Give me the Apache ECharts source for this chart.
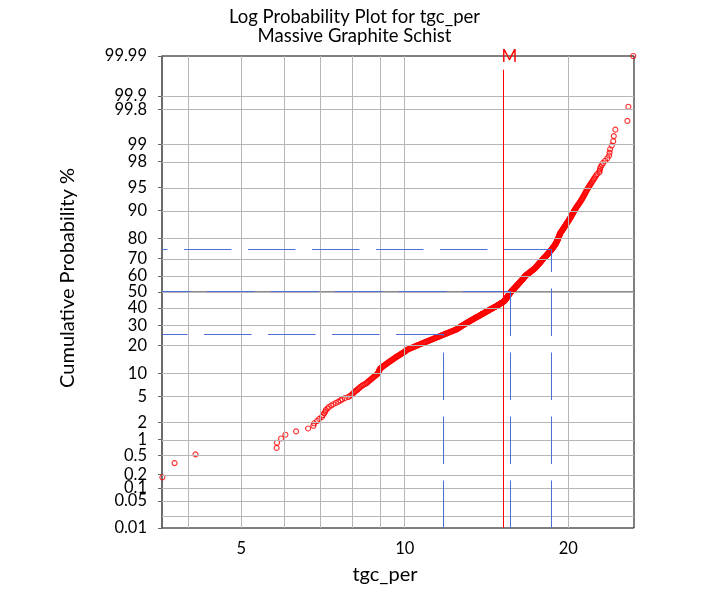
<!DOCTYPE html>
<html>
<head>
<meta charset="utf-8">
<script src="https://cdn.jsdelivr.net/npm/echarts@6/dist/echarts.min.js"></script>
<style>
  html, body { margin: 0; padding: 0; background: #fff; }
  #chart { width: 709px; height: 596px; }
</style>
</head>
<body>
<div id="chart"></div>
<script>
// Sorted tgc_per assays (%), Massive Graphite Schist, n = 570
const tgcPer = [
  3.58,3.77,4.12,5.81,5.82,5.92,6.03,6.31,6.64,6.79,
  6.81,6.90,6.96,7.04,7.07,7.11,7.14,7.16,7.21,7.25,
  7.32,7.39,7.47,7.55,7.62,7.67,7.76,7.87,7.93,7.98,
  8.02,8.05,8.09,8.12,8.17,8.20,8.24,8.27,8.31,8.35,
  8.39,8.45,8.51,8.53,8.56,8.60,8.63,8.66,8.69,8.72,
  8.75,8.78,8.81,8.85,8.88,8.90,8.93,8.94,8.95,8.96,
  8.97,8.98,8.99,9.00,9.01,9.04,9.07,9.10,9.12,9.15,
  9.18,9.21,9.24,9.27,9.30,9.32,9.35,9.38,9.41,9.44,
  9.47,9.50,9.52,9.55,9.58,9.61,9.64,9.67,9.70,9.73,
  9.76,9.79,9.82,9.85,9.88,9.91,9.94,9.97,10.00,10.02,
  10.04,10.06,10.08,10.12,10.16,10.20,10.24,10.28,10.33,10.37,
  10.41,10.45,10.49,10.53,10.58,10.62,10.67,10.71,10.75,10.80,
  10.84,10.88,10.92,10.96,11.01,11.05,11.09,11.14,11.18,11.22,
  11.27,11.31,11.35,11.40,11.44,11.48,11.52,11.57,11.61,11.65,
  11.70,11.74,11.78,11.82,11.87,11.91,11.95,11.99,12.04,12.08,
  12.12,12.17,12.21,12.25,12.30,12.34,12.38,12.43,12.47,12.49,
  12.52,12.55,12.57,12.60,12.62,12.65,12.68,12.70,12.73,12.75,
  12.78,12.81,12.84,12.87,12.90,12.93,12.95,12.98,13.01,13.04,
  13.07,13.10,13.13,13.16,13.19,13.22,13.25,13.28,13.31,13.34,
  13.37,13.40,13.43,13.46,13.49,13.52,13.55,13.58,13.61,13.65,
  13.68,13.71,13.74,13.77,13.80,13.83,13.86,13.89,13.92,13.95,
  13.98,14.01,14.04,14.07,14.10,14.14,14.17,14.20,14.23,14.26,
  14.29,14.32,14.35,14.38,14.42,14.45,14.48,14.51,14.54,14.58,
  14.61,14.64,14.67,14.71,14.74,14.77,14.80,14.83,14.86,14.88,
  14.91,14.94,14.97,15.00,15.03,15.05,15.08,15.11,15.14,15.17,
  15.20,15.22,15.25,15.26,15.28,15.29,15.30,15.32,15.33,15.34,
  15.36,15.37,15.38,15.40,15.41,15.42,15.44,15.45,15.46,15.48,
  15.49,15.50,15.51,15.53,15.54,15.55,15.57,15.58,15.59,15.60,
  15.62,15.63,15.64,15.66,15.67,15.69,15.71,15.72,15.74,15.76,
  15.78,15.79,15.81,15.83,15.85,15.86,15.88,15.90,15.92,15.93,
  15.95,15.97,15.99,16.00,16.02,16.04,16.06,16.07,16.09,16.11,
  16.13,16.14,16.16,16.18,16.20,16.21,16.23,16.25,16.27,16.28,
  16.30,16.32,16.34,16.35,16.37,16.39,16.41,16.42,16.44,16.46,
  16.48,16.49,16.51,16.53,16.55,16.56,16.58,16.60,16.61,16.63,
  16.64,16.66,16.67,16.70,16.72,16.75,16.78,16.80,16.83,16.86,
  16.89,16.91,16.94,16.97,16.99,17.02,17.05,17.07,17.10,17.13,
  17.16,17.18,17.21,17.24,17.26,17.29,17.32,17.34,17.37,17.39,
  17.41,17.43,17.45,17.47,17.49,17.51,17.53,17.55,17.57,17.59,
  17.61,17.63,17.65,17.67,17.69,17.71,17.73,17.75,17.77,17.79,
  17.81,17.83,17.85,17.87,17.89,17.91,17.93,17.95,17.98,18.00,
  18.02,18.05,18.07,18.09,18.12,18.14,18.16,18.19,18.21,18.23,
  18.26,18.28,18.30,18.32,18.35,18.37,18.39,18.42,18.44,18.46,
  18.49,18.51,18.53,18.56,18.58,18.60,18.63,18.65,18.67,18.69,
  18.71,18.73,18.75,18.77,18.79,18.82,18.84,18.86,18.88,18.90,
  18.92,18.93,18.95,18.97,18.98,19.00,19.02,19.03,19.05,19.06,
  19.08,19.09,19.11,19.12,19.14,19.15,19.17,19.18,19.19,19.21,
  19.22,19.23,19.24,19.26,19.27,19.28,19.30,19.31,19.32,19.33,
  19.36,19.38,19.41,19.43,19.46,19.48,19.51,19.53,19.56,19.58,
  19.61,19.63,19.66,19.69,19.71,19.74,19.76,19.79,19.82,19.84,
  19.87,19.90,19.93,19.95,19.98,20.01,20.04,20.07,20.10,20.12,
  20.15,20.18,20.21,20.24,20.27,20.29,20.32,20.35,20.38,20.41,
  20.44,20.46,20.49,20.52,20.56,20.59,20.63,20.67,20.70,20.74,
  20.78,20.83,20.87,20.92,20.96,21.01,21.05,21.10,21.14,21.19,
  21.23,21.28,21.32,21.36,21.41,21.45,21.50,21.54,21.59,21.63,
  21.69,21.75,21.82,21.88,21.94,22.02,22.09,22.17,22.25,22.31,
  22.41,22.50,22.60,22.82,22.84,22.89,22.94,23.05,23.18,23.38,
  23.61,23.78,23.83,23.88,24.05,24.20,24.26,24.42,25.70,25.81
];

// Extreme assay shown on the 99.99 % line: [tgc_per, cumulative %]
const extremePoint = [26.35, 99.99];

// Probability-axis tick labels (cumulative %)
const probTickLabels = ['0.01','0.02','0.05','0.1','0.2','0.5','1','2','5','10','20',
  '30','40','50','60','70','80','90','95','98','99','99.8','99.9','99.99'];

// tgc_per axis: labelled ticks, all ticks and vertical grid lines
const xTickLabels = [5, 10, 20];
const xTickValues = [4, 5, 6, 7, 8, 9, 10, 20];

// Quartile guide lines (cumulative %)
const quartilePercents = [25, 50, 75];

// ---- layout / style constants ----
const X_MIN = 3.574, X_MAX = 26.43;
const MEAN_LINE_TOP_PCT = 99.977;
const FONT = 'Lato';
const GUIDE_BLUE = '#4a70d8';
const GRID_GREY = '#b6b6b6';

// Inverse standard normal CDF (Acklam)
function probit(p) {
  const a = [-3.969683028665376e+01, 2.209460984245205e+02, -2.759285104469687e+02,
             1.383577518672690e+02, -3.066479806614716e+01, 2.506628277459239e+00];
  const b = [-5.447609879822406e+01, 1.615858368580409e+02, -1.556989798598866e+02,
             6.680131188771972e+01, -1.328068155288572e+01];
  const c = [-7.784894002430293e-03, -3.223964580411365e-01, -2.400758277161838e+00,
             -2.549732539343734e+00, 4.374664141464968e+00, 2.938163982698783e+00];
  const d = [7.784695709041462e-03, 3.224671290700398e-01, 2.445134137142996e+00,
             3.754408661907416e+00];
  const pl = 0.02425, ph = 1 - pl;
  let q, r;
  if (p < pl) {
    q = Math.sqrt(-2 * Math.log(p));
    return (((((c[0]*q+c[1])*q+c[2])*q+c[3])*q+c[4])*q+c[5]) /
           ((((d[0]*q+d[1])*q+d[2])*q+d[3])*q+1);
  }
  if (p > ph) {
    q = Math.sqrt(-2 * Math.log(1 - p));
    return -(((((c[0]*q+c[1])*q+c[2])*q+c[3])*q+c[4])*q+c[5]) /
            ((((d[0]*q+d[1])*q+d[2])*q+d[3])*q+1);
  }
  q = p - 0.5; r = q * q;
  return (((((a[0]*r+a[1])*r+a[2])*r+a[3])*r+a[4])*r+a[5])*q /
         (((((b[0]*r+b[1])*r+b[2])*r+b[3])*r+b[4])*r+1);
}
const zOf = pct => probit(pct / 100);

const N = tgcPer.length;
const Z_MIN = zOf(0.01), Z_MAX = zOf(99.99);
const probTicks = probTickLabels.map(s => zOf(parseFloat(s)));

// Weibull plotting positions i/(n+1)
const points = tgcPer.map((v, i) => [v, probit((i + 1) / (N + 1))]);
points.push([extremePoint[0], zOf(extremePoint[1])]);

function quantile(sorted, q) {
  const pos = q * (sorted.length + 1);
  const i = Math.floor(pos), f = pos - i;
  if (i < 1) return sorted[0];
  if (i >= sorted.length) return sorted[sorted.length - 1];
  return sorted[i - 1] + f * (sorted[i] - sorted[i - 1]);
}
const mean = tgcPer.reduce((s, v) => s + v, 0) / N;

const gridLines = probTicks.slice(1, -1).map(z => ({ yAxis: z }))
  .concat(xTickValues.map(v => ({ xAxis: v })));

const chart = echarts.init(document.getElementById('chart'), null, { renderer: 'canvas' });

function guideSeries(snap) {
  const lines = [];
  quartilePercents.forEach(pct => {
    const [v, z] = snap([quantile(tgcPer, pct / 100), zOf(pct)]);
    lines.push([{ coord: [v, z] }, { coord: [X_MIN, z] }]);
    lines.push([{ coord: [v, Z_MIN] }, { coord: [v, z] }]);
  });
  const [mx] = snap([mean, 0]);
  return [
    {
      id: 'quartiles', name: 'quartiles', type: 'scatter', data: [], silent: true,
      markLine: {
        silent: true, symbol: ['none', 'none'], animation: false,
        label: { show: false },
        lineStyle: { color: GUIDE_BLUE, width: 1, type: [47.5, 16.5] },
        emphasis: { disabled: true },
        data: lines
      }
    },
    {
      id: 'mean', name: 'mean', type: 'scatter', data: [], silent: true,
      markLine: {
        silent: true, symbol: ['none', 'none'], animation: false,
        lineStyle: { color: '#ff0000', width: 1, type: 'solid' },
        emphasis: { disabled: true },
        label: {
          show: true, position: 'end', formatter: 'M', distance: 5,
          fontFamily: FONT, fontSize: 17, color: '#ff0000', offset: [6, 0]
        },
        data: [[{ coord: [mx, Z_MIN] }, { coord: [mx, zOf(MEAN_LINE_TOP_PCT)] }]]
      }
    }
  ];
}

chart.setOption({
  animation: false,
  backgroundColor: '#fff',
  title: {
    text: 'Log Probability Plot for tgc_per\nMassive Graphite Schist',
    left: 'center',
    top: 2,
    textStyle: { fontFamily: FONT, fontSize: 18.5, fontWeight: 'normal', color: '#000', lineHeight: 19.5 }
  },
  grid: {
    left: 162, right: 75, top: 56, bottom: 68,
    show: true, borderColor: '#000', borderWidth: 1, backgroundColor: 'transparent'
  },
  xAxis: {
    type: 'log', logBase: 10, min: X_MIN, max: X_MAX,
    name: 'tgc_per', nameLocation: 'middle', nameGap: 37,
    nameTextStyle: { fontFamily: FONT, fontSize: 20, color: '#000', padding: [0, 26, 0, 0] },
    axisLine: { show: true, lineStyle: { color: '#666', width: 1.5 } },
    axisTick: { show: true, length: 4, customValues: xTickValues, lineStyle: { color: '#666' } },
    axisLabel: {
      customValues: xTickLabels, margin: 12,
      fontFamily: FONT, fontSize: 16.5, color: '#000',
      formatter: v => String(Math.round(v))
    },
    splitLine: { show: false }
  },
  yAxis: {
    type: 'value', min: Z_MIN - 1e-9, max: Z_MAX + 1e-9,
    name: 'Cumulative Probability %', nameLocation: 'middle', nameGap: 84,
    nameTextStyle: { fontFamily: FONT, fontSize: 20, color: '#000', padding: [0, 0, 0, 28] },
    axisLine: { show: true, lineStyle: { color: '#666', width: 1.5 } },
    axisTick: { show: true, length: 4, customValues: probTicks, lineStyle: { color: '#666' } },
    axisLabel: {
      customValues: probTicks, margin: 15, showMinLabel: true, showMaxLabel: true,
      fontFamily: FONT, fontSize: 16.5, color: '#000',
      formatter: v => {
        let best = 0;
        probTicks.forEach((z, i) => { if (Math.abs(z - v) < Math.abs(probTicks[best] - v)) best = i; });
        return probTickLabels[best];
      }
    },
    splitLine: { show: false }
  },
  series: [
    {
      id: 'grid', name: 'grid', type: 'scatter', data: [], silent: true,
      markLine: {
        silent: true, symbol: ['none', 'none'], animation: false,
        label: { show: false },
        lineStyle: { color: GRID_GREY, width: 1, type: 'solid' },
        emphasis: { disabled: true },
        data: gridLines
      }
    }
  ].concat(guideSeries(p => p)).concat([
    {
      id: 'tgc', name: 'tgc_per', type: 'scatter', data: points, clip: true,
      symbol: 'circle', symbolSize: 5,
      itemStyle: { color: 'rgba(255,0,0,0)', borderColor: '#ff0000', borderWidth: 1.1 }
    }
  ])
});

// Put the 1px guide lines on pixel centres so they render crisp
const crisp = ([v, z]) => {
  const px = chart.convertToPixel({ gridIndex: 0 }, [v, z]);
  const sx = Math.floor(px[0]) + 0.5, sy = Math.floor(px[1]) + 0.5;
  return chart.convertFromPixel({ gridIndex: 0 }, [sx, sy]);
};
chart.setOption({ series: guideSeries(crisp) });
</script>
</body>
</html>
